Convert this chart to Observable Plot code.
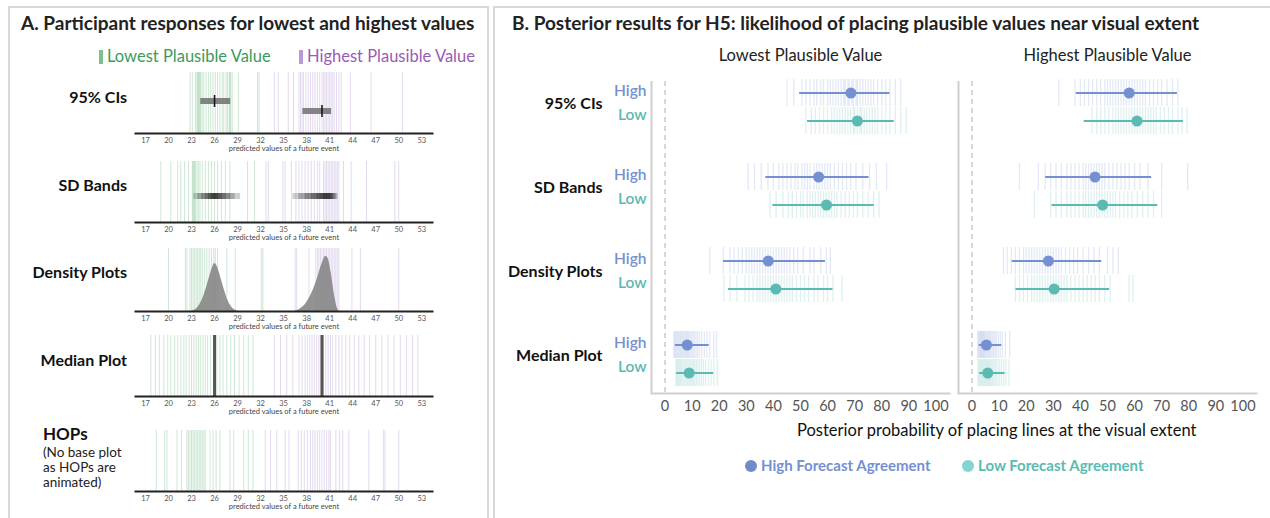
<!DOCTYPE html>
<html>
<head>
<meta charset="utf-8">
<script src="https://cdn.jsdelivr.net/npm/d3@7"></script>
<script src="https://cdn.jsdelivr.net/npm/@observablehq/plot@0.6"></script>
<style>
  html,body{margin:0;padding:0;background:#fff;}
  #root{position:relative;width:1270px;height:518px;overflow:hidden;font-family:Lato,"Open Sans",sans-serif;color:#111;}
  .box{position:absolute;border:2px solid #d9d9d9;box-sizing:border-box;}
  .t{position:absolute;white-space:nowrap;line-height:1;}
  .chart{position:absolute;}
  .chart svg{overflow:visible;max-width:none;}
</style>
</head>
<body>
<div id="root">
  <div class="box" style="left:8px;top:6px;width:481px;height:560px"></div>
  <div class="box" style="left:493px;top:6px;width:800px;height:560px"></div>
  <div class="t" style="left:21px;top:13px;font-size:19px;font-weight:700;color:#222">A. Participant responses for lowest and highest values</div>
  <div class="t" style="left:512px;top:13px;font-size:19px;font-weight:700;color:#222">B. Posterior results for H5: likelihood of placing plausible values near visual extent</div>
</div>
<script>
// ---------------- Panel A data ----------------
const seriesA = ["Lowest Plausible Value", "Highest Plausible Value"];
const methodsA = ["95% CIs", "SD Bands", "Density Plots", "Median Plot", "HOPs"];
const hopsNote = ["(No base plot", "as HOPs are", "animated)"];
const xTicksA = [17, 20, 23, 26, 29, 32, 35, 38, 41, 44, 47, 50, 53];
const axisLabelA = "predicted values of a future event";

// participant responses (vertical lines)
const ci95Lowest = [22.8, 23.1, 23.5, 23.7, 23.8, 23.9, 24.0, 24.1, 24.2, 24.4, 24.6, 24.9, 25.2, 25.5, 25.8, 26.1, 26.4, 26.7, 27.0, 27.2, 27.5, 27.7, 27.9, 28.0, 28.1, 28.3, 29.1, 31.6, 31.8];
const ci95Highest = [33.8, 34.3, 35.6, 36.3, 37.0, 37.2, 37.4, 37.6, 37.9, 38.2, 38.5, 38.8, 39.1, 39.4, 39.7, 40.0, 40.2, 40.4, 40.6, 40.8, 41.0, 41.2, 41.4, 41.6, 41.9, 42.2, 42.5, 43.7, 46.4, 50.5];
const sdLowest = [19.0, 20.3, 21.2, 21.6, 22.1, 22.6, 23.1, 23.2, 23.3, 23.4, 23.5, 23.7, 23.9, 24.1, 24.4, 24.8, 25.2, 25.6, 26.0, 26.4, 26.9, 27.4, 28.0, 30.3, 31.2];
const sdHighest = [32.7, 33.0, 34.9, 35.2, 36.0, 36.6, 37.0, 37.4, 37.8, 38.2, 38.6, 39.0, 39.4, 39.7, 40.2, 40.4, 40.6, 40.8, 41.0, 41.2, 41.4, 41.6, 41.8, 42.0, 42.2, 42.8, 43.8, 45.8, 49.5, 50.0];
const densLowest = [20.0, 22.2, 22.4, 22.8, 23.0, 23.2, 23.4, 23.6, 23.8, 24.0, 24.2, 24.4, 24.7, 25.0, 25.3, 25.6, 25.9, 26.1, 26.4, 27.6, 28.7, 32.1, 32.3];
const densHighest = [36.5, 36.7, 38.3, 39.2, 39.4, 39.6, 39.8, 40.0, 40.2, 40.4, 40.6, 40.8, 41.0, 41.2, 41.4, 41.6, 41.8, 42.0, 42.2, 43.9, 45.0, 50.0];
const medianLowest = [17.7, 18.3, 18.8, 19.4, 19.9, 20.3, 20.8, 21.2, 21.6, 22.0, 22.3, 22.7, 23.0, 23.3, 23.6, 23.9, 24.2, 24.5, 24.8, 25.1, 25.5, 25.9, 26.3, 26.7, 27.1, 27.6, 28.1, 28.6, 29.2, 29.8, 30.4, 31.0];
const medianHighest = [33.8, 34.6, 35.4, 36.2, 37.0, 37.4, 37.8, 38.1, 38.4, 38.7, 39.0, 39.3, 39.6, 39.9, 40.2, 40.5, 40.8, 41.1, 41.4, 41.8, 42.2, 42.6, 43.1, 43.6, 44.2, 44.8, 45.5, 46.2, 47.0, 47.8, 48.6, 49.4, 50.2, 51.0, 51.8, 52.5];
const hopsLowest = [18.4, 19.5, 19.8, 21.1, 21.7, 22.4, 22.6, 22.8, 23.0, 23.2, 23.4, 23.6, 23.8, 24.0, 24.2, 24.4, 24.6, 24.8, 25.4, 25.8, 26.2, 26.7, 28.0, 28.5, 29.8, 30.4, 31.0];
const hopsHighest = [32.6, 33.3, 34.1, 35.2, 35.7, 36.9, 37.3, 37.7, 38.1, 38.5, 38.8, 39.1, 39.4, 39.7, 40.0, 40.3, 40.6, 40.9, 41.1, 41.8, 42.3, 42.7, 43.5, 46.1, 48.0, 48.2, 50.0];

// base plots
const ciLo = [24.2, 37.5], ciHi = [28.1, 41.25], ciMid = [26.0, 40.0];
const sdIntervalsLowest = [[23.3, 29.4], [23.8, 28.7], [24.3, 28.1], [24.8, 27.5], [25.2, 27.0], [25.5, 26.6], [25.8, 26.3]];
const sdIntervalsHighest = [[36.2, 42.1], [37.0, 41.95], [37.8, 41.8], [38.6, 41.6], [39.3, 41.45], [39.8, 41.3], [40.2, 41.1]];
const densLowestX = [22.8, 23.3, 23.8, 24.3, 24.8, 25.3, 25.8, 26.0, 26.3, 26.8, 27.3, 27.8, 28.3, 28.8, 29.2];
const densLowestY = [0, 0.02, 0.07, 0.18, 0.36, 0.6, 0.82, 0.87, 0.83, 0.62, 0.38, 0.18, 0.07, 0.02, 0];
const densHighestX = [36.4, 37.0, 37.5, 38.0, 38.5, 39.0, 39.5, 40.0, 40.5, 40.8, 41.2, 41.6, 42.0, 42.3];
const densHighestY = [0, 0.03, 0.08, 0.16, 0.28, 0.44, 0.64, 0.86, 1.0, 0.96, 0.7, 0.32, 0.06, 0];
const medianValues = [26.0, 40.0];

// ---------------- Panel B data ----------------
const methodsB = ["95% CIs", "SD Bands", "Density Plots", "Median Plot"];
const sidesB = ["Lowest Plausible Value", "Highest Plausible Value"];
const agreements = ["High", "Low"];
const xTicksB = [0, 10, 20, 30, 40, 50, 60, 70, 80, 90, 100];
const xLabelB = "Posterior probability of placing lines at the visual extent";

const estLowestHigh = [68.6, 56.7, 38.1, 8.2];
const estLowestLow = [71.0, 59.6, 40.9, 8.9];
const estHighestHigh = [58.0, 45.4, 28.2, 5.3];
const estHighestLow = [60.9, 48.2, 30.3, 5.8];
const ciLowestHigh = [[49.7, 83.0], [37.2, 75.3], [21.6, 59.2], [3.8, 16.3]];
const ciLowestLow = [[52.6, 84.6], [39.8, 77.2], [23.4, 62.0], [4.3, 18.0]];
const ciHighestHigh = [[38.5, 75.8], [27.2, 66.3], [14.8, 47.9], [2.6, 11.0]];
const ciHighestLow = [[41.4, 78.0], [29.5, 68.6], [16.2, 50.8], [2.8, 12.2]];

const drawsLowestHigh = [
  [45, 47.5, 50.5, 52, 53.5, 55, 56, 57.5, 58.5, 60, 61, 62, 63, 64, 65, 66, 66.5, 67.5, 68, 69, 69.5, 70.5, 71, 72, 73, 74, 75, 76, 77, 78.5, 80, 81.5, 83, 85, 87],
  [30.7, 33, 35.5, 38, 40, 42, 43.5, 45, 46.5, 48, 49, 50.5, 51.5, 52.5, 53.5, 55, 56, 57, 58, 59, 60, 61, 62.5, 64, 65.5, 67, 68.5, 70.5, 73, 75.5, 78, 81.8],
  [16.5, 21.5, 24, 25.5, 27, 28.5, 30, 31, 32, 33, 34, 35, 36, 37, 38, 39, 40, 41, 42, 43, 44, 45, 46, 47.5, 49, 51, 53.5, 55, 57.5, 59.5, 61],
  [3.3, 3.6, 4, 4.4, 4.8, 5.2, 5.6, 6, 6.4, 6.8, 7.2, 7.6, 8, 8.4, 8.8, 9.3, 9.8, 10.3, 10.8, 11.4, 12, 12.7, 13.5, 14.5, 15.5, 16.5, 18, 19]
];
const drawsLowestLow = [
  [52, 54, 55.5, 57, 58.5, 60, 61.5, 62.5, 63.5, 64.5, 65.5, 66.5, 67.5, 68.5, 69.5, 70, 71, 72, 72.5, 73.5, 74.5, 75.5, 76.5, 77.5, 78.5, 80, 81.5, 83, 85, 87, 89],
  [38.8, 41, 43.5, 45.5, 47, 48.5, 50, 51, 52.5, 53.5, 54.5, 55.5, 56.5, 57.5, 58.5, 59.5, 60.5, 61.5, 62.5, 63.5, 65, 66.5, 68, 69.5, 71, 73, 75, 77, 79],
  [21.7, 24, 26.5, 29.5, 31, 32.5, 34, 35, 36, 37, 38, 39, 40, 41, 42, 43, 44, 45, 46, 47, 48.5, 50, 51.5, 53, 55, 56.5, 58.5, 60, 62, 65.3],
  [4, 4.4, 4.8, 5.2, 5.6, 6, 6.5, 7, 7.5, 8, 8.5, 9, 9.5, 10, 10.5, 11, 11.6, 12.2, 12.8, 13.5, 14.2, 15, 16, 17, 18, 19.3]
];
const drawsHighestHigh = [
  [32, 38, 40, 41.5, 43, 44.5, 46, 47.5, 49, 50, 51, 52, 53, 54, 55, 56, 57, 58, 59, 60, 61, 62, 63, 64, 65.5, 67, 68.5, 70, 72, 74, 76],
  [17.5, 24.5, 27, 29, 31, 33, 35, 36.5, 38, 39.5, 41, 42, 43, 44, 45, 46, 47, 48, 49, 50.5, 52, 53.5, 55, 56.5, 58, 60, 62, 65, 70, 79.6],
  [11.6, 13, 14.5, 16, 17.5, 19, 20, 21, 22, 23, 24, 25, 26, 27, 28, 29, 30, 31, 32, 33, 34.5, 36, 37.5, 39, 41, 43, 45, 47, 50, 52, 54],
  [2.1, 2.4, 2.8, 3.1, 3.4, 3.7, 4, 4.3, 4.6, 5, 5.4, 5.8, 6.2, 6.6, 7, 7.5, 8, 8.5, 9, 9.7, 10.4, 11.2, 12.3, 13.9]
];
const drawsHighestLow = [
  [44.3, 46, 47.5, 49, 50.5, 52, 53, 54, 55, 56, 57, 58, 59, 60, 61, 62, 63, 64, 65, 66, 67, 68, 69.5, 71, 72.5, 74, 76, 77.5, 79.3],
  [23, 29, 31, 33, 35, 36.5, 38, 39.5, 41, 42, 43, 44, 45, 46, 47, 48, 49, 50, 51, 52, 53, 54.5, 56, 57.5, 59, 61, 63, 65, 67, 70],
  [16, 17.5, 19, 20.5, 22, 23, 24, 25, 26, 27, 28, 29, 30, 31, 32, 33, 34, 35, 36.5, 38, 39.5, 41, 42.5, 44, 45.5, 47, 49, 51, 58, 59.4],
  [2.2, 2.6, 3, 3.4, 3.8, 4.2, 4.6, 5, 5.4, 5.8, 6.2, 6.6, 7, 7.5, 8, 8.5, 9, 9.6, 10.2, 10.9, 11.7, 12.5, 13.6]
];

// ---------------- styling constants ----------------
const GREEN = "#4fa865", PURPLE = "#9d77c6";
const GREEN_TEXT = "#3a9b5c", PURPLE_TEXT = "#9a5ab8";
const BLUE = "#7590d1", TEAL = "#5bbab1";
const FONT = "Lato, 'Open Sans', sans-serif";
const root = document.getElementById("root");

function addText(txt, css) {
  const d = document.createElement("div");
  d.className = "t";
  d.textContent = txt;
  Object.assign(d.style, css);
  root.appendChild(d);
  return d;
}
function addChart(svg, left, top) {
  const d = document.createElement("div");
  d.className = "chart";
  d.style.left = left + "px";
  d.style.top = top + "px";
  d.appendChild(svg);
  root.appendChild(d);
}

// ---------------- Panel A ----------------
[[seriesA[0], GREEN_TEXT, "#7cc08f", 99], [seriesA[1], PURPLE_TEXT, "#b89bd6", 299]].forEach(([label, col, sw, left]) => {
  const d = addText("", {left: left + "px", top: "48px", fontSize: "16.5px", color: col});
  const s = document.createElement("span");
  Object.assign(s.style, {display: "inline-block", width: "4px", height: "14px", background: sw, marginRight: "4px", verticalAlign: "-2px"});
  d.appendChild(s);
  d.appendChild(document.createTextNode(label));
});

const labelY = [98, 186, 273, 361];
methodsA.slice(0, 4).forEach((m, i) => {
  addText(m, {left: "0px", width: "127px", textAlign: "right", top: (labelY[i] - 9) + "px", fontSize: "16px", fontWeight: "700"});
});
addText(methodsA[4], {left: "43px", top: "425px", fontSize: "17px", fontWeight: "700"});
hopsNote.forEach((line, i) => addText(line, {left: "43px", top: (446 + 15 * i) + "px", fontSize: "13.5px", color: "#222"}));

const xDomainA = [15.7, 54.4];
function smallPlot(frameH, lows, highs, extraMarks, yOpts) {
  return Plot.plot({
    width: 302, height: frameH + 26,
    marginLeft: 2, marginRight: 3, marginTop: 0, marginBottom: 26,
    x: {domain: xDomainA},
    y: yOpts,
    style: {background: "transparent", fontFamily: FONT, overflow: "visible"},
    marks: [
      Plot.ruleX(lows, {stroke: GREEN, strokeOpacity: 0.28}),
      Plot.ruleX(highs, {stroke: PURPLE, strokeOpacity: 0.28}),
      ...extraMarks,
      Plot.frame({anchor: "bottom", stroke: "#222", strokeWidth: 2}),
      Plot.axisX({ticks: xTicksA, tickSize: 0, tickPadding: 4, fontSize: 7.5, color: "#555", label: null}),
      Plot.text([axisLabelA], {text: d => d, frameAnchor: "bottom", dy: 17, fontSize: 7.5, fill: "#444"})
    ]
  });
}

// 95% CIs
const ciRows = seriesA.map((s, i) => ({which: s, lo: ciLo[i], hi: ciHi[i], mid: ciMid[i]}));
addChart(smallPlot(61, ci95Lowest, ci95Highest, [
  Plot.barX(ciRows, {x1: "lo", x2: "hi", y: "which", fill: "#707070", fillOpacity: 0.85}),
  Plot.tickX(ciRows, {x: "mid", y: "which", stroke: "#111", strokeWidth: 1.5, insetTop: -3, insetBottom: -3})
], {domain: seriesA, paddingInner: 0.45, paddingOuter: 2, align: 0.57, axis: null}), 133, 72);

// SD bands
const sdRows = [
  ...sdIntervalsLowest.map(([lo, hi]) => ({row: "band", lo, hi})),
  ...sdIntervalsHighest.map(([lo, hi]) => ({row: "band", lo, hi}))
];
addChart(smallPlot(61, sdLowest, sdHighest, [
  Plot.barX(sdRows, {x1: "lo", x2: "hi", y: "row", fill: "#111", fillOpacity: 0.2})
], {domain: ["band"], paddingInner: 0, paddingOuter: 3.86, align: 0.58, axis: null}), 133, 161);

// Density plots
const densL = densLowestX.map((x, i) => ({x, y: densLowestY[i]}));
const densH = densHighestX.map((x, i) => ({x, y: densHighestY[i]}));
addChart(smallPlot(63, densLowest, densHighest, [
  Plot.areaY(densL, {x: "x", y: "y", fill: "#808080", fillOpacity: 0.85, curve: "monotone-x"}),
  Plot.areaY(densH, {x: "x", y: "y", fill: "#808080", fillOpacity: 0.85, curve: "monotone-x"})
], {domain: [0, 1.14], axis: null}), 133, 248);

// Median plot
addChart(smallPlot(61, medianLowest, medianHighest, [
  Plot.ruleX(medianValues, {stroke: "#555", strokeWidth: 3})
]), 133, 335);

// HOPs
addChart(smallPlot(61, hopsLowest, hopsHighest, []), 133, 430);

// ---------------- Panel B ----------------
const yDomainB = [];
methodsB.forEach((m, i) => {
  if (i) yDomainB.push("gap" + i);
  agreements.forEach(a => yDomainB.push(m + " | " + a));
});
const estimates = {
  [sidesB[0]]: {High: [estLowestHigh, ciLowestHigh, drawsLowestHigh], Low: [estLowestLow, ciLowestLow, drawsLowestLow]},
  [sidesB[1]]: {High: [estHighestHigh, ciHighestHigh, drawsHighestHigh], Low: [estHighestLow, ciHighestLow, drawsHighestLow]}
};
const pointRows = [], drawRows = [];
sidesB.forEach(side => agreements.forEach(a => {
  const [est, ci, draws] = estimates[side][a];
  methodsB.forEach((m, mi) => {
    const key = m + " | " + a;
    pointRows.push({side, method: m, agreement: a, key, est: est[mi], lo: ci[mi][0], hi: ci[mi][1]});
    draws[mi].forEach(v => drawRows.push({side, agreement: a, key, v}));
  });
}));
const leftRows = pointRows.filter(d => d.side === sidesB[0]);
const methodRows = leftRows.filter(d => d.agreement === "High");

const plotB = Plot.plot({
  width: 776, height: 448,
  marginLeft: 156, marginRight: 14, marginTop: 72, marginBottom: 55,
  x: {domain: [-5, 105]},
  y: {domain: yDomainB, paddingInner: 0.05, paddingOuter: 0.1, axis: null},
  fx: {domain: sidesB, paddingInner: 0.03, paddingOuter: 0},
  color: {domain: agreements, range: [BLUE, TEAL]},
  style: {background: "transparent", fontFamily: FONT, overflow: "visible"},
  marks: [
    Plot.ruleX([-5], {stroke: "#cfcfcf", strokeWidth: 2, insetTop: 9}),
    Plot.ruleX([0], {stroke: "#c8c8c8", strokeWidth: 1.5, strokeDasharray: "5,4", insetTop: 9}),
    Plot.frame({anchor: "bottom", stroke: "#cfcfcf", strokeWidth: 2}),
    Plot.tickX(drawRows, {x: "v", y: "key", fx: "side", stroke: "agreement", strokeOpacity: 0.2, strokeWidth: 1.3}),
    Plot.ruleY(pointRows, {y: "key", x1: "lo", x2: "hi", fx: "side", stroke: "agreement", strokeWidth: 2}),
    Plot.dot(pointRows, {x: "est", y: "key", fx: "side", fill: "agreement", r: 5.5}),
    Plot.text(leftRows.filter(d => d.agreement === "High"), {y: "key", fx: "side", text: "agreement", fill: "agreement", frameAnchor: "left", textAnchor: "end", dx: -5, dy: -2, fontSize: 15.5, fontWeight: 600}),
    Plot.text(leftRows.filter(d => d.agreement === "Low"), {y: "key", fx: "side", text: "agreement", fill: "agreement", frameAnchor: "left", textAnchor: "end", dx: -5, dy: -6, fontSize: 15.5, fontWeight: 600}),
    Plot.text(methodRows, {y: "key", fx: "side", text: "method", fill: "#111", frameAnchor: "left", textAnchor: "end", dx: -49, dy: 11, fontSize: 16, fontWeight: 700}),
    Plot.axisFx({anchor: "top", tickSize: 0, tickPadding: 12, fontSize: 16.5, color: "#222", label: null}),
    Plot.axisX({ticks: xTicksB, tickSize: 0, tickPadding: 7, fontSize: 14.5, color: "#555", label: null})
  ]
});
addChart(plotB, 494, 0);

addText(xLabelB, {left: "797px", top: "422px", fontSize: "16.5px", color: "#111"});

const legendColors = ["#6f8bcc", "#84d5d0"], legendText = [BLUE, TEAL], legendLeft = [745, 962];
agreements.forEach((a, i) => {
  const d = addText("", {left: legendLeft[i] + "px", top: "458px", fontSize: "15px", fontWeight: "700", color: legendText[i]});
  const s = document.createElement("span");
  Object.assign(s.style, {display: "inline-block", width: "12px", height: "12px", borderRadius: "50%", background: legendColors[i], marginRight: "4px", verticalAlign: "-1px"});
  d.appendChild(s);
  d.appendChild(document.createTextNode(a + " Forecast Agreement"));
});
</script>
</body>
</html>
